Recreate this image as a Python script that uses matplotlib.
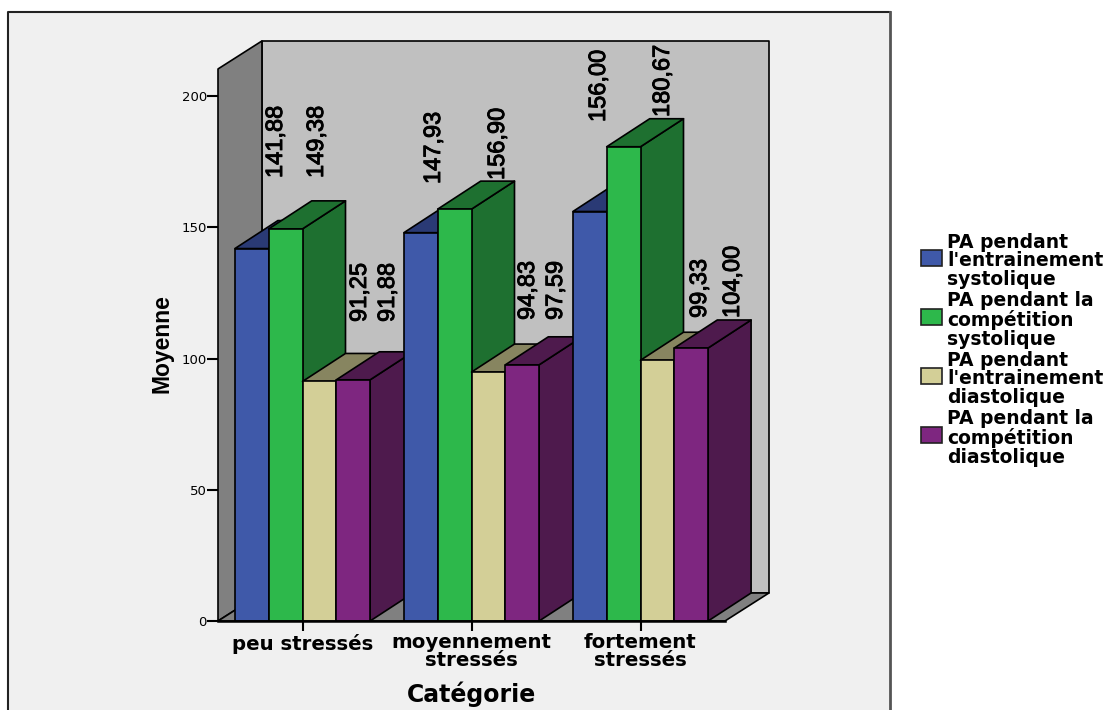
import matplotlib
matplotlib.use('Agg')
import matplotlib.pyplot as plt
import matplotlib.patheffects as pe
from matplotlib.patches import Polygon, Rectangle
from matplotlib.lines import Line2D

W, H = 1107, 710

categories = ['peu stressés', 'moyennement\nstressés', 'fortement\nstressés']
series_names = ["PA pendant\nl'entrainement\nsystolique",
                'PA pendant la\ncompétition\nsystolique',
                "PA pendant\nl'entrainement\ndiastolique",
                'PA pendant la\ncompétition\ndiastolique']
entr_sys = [141.88, 147.93, 156.00]
comp_sys = [149.38, 156.90, 180.67]
entr_dia = [91.25, 94.83, 99.33]
comp_dia = [91.88, 97.59, 104.00]
yticks = [0, 50, 100, 150, 200]

front_colors = ['#3F59A9', '#2DB84B', '#D3CF97', '#7E2680']
dark_colors = ['#2A3A75', '#1E7030', '#878560', '#4E1A4D']

# pixel spots of the value labels (centre x, bottom y), same order as the bars
label_spots = [[(276, 178), (317, 178), (360, 322), (388, 322)],
               [(434, 184), (498, 180), (528, 320), (556, 320)],
               [(599, 122), (663, 117), (700, 318), (733, 318)]]
legend_y = [261, 320, 379, 438]

DEPTH_X = 0.2544
WALL_DEPTH_X = 0.26
DEPTH_Y = 10.67
WALL_TOP = 210.3
BAR_W = 0.2


def px(x, y):
    return x / W, 1 - y / H


def fmt(v):
    return f'{v:.2f}'.replace('.', ',')


fig = plt.figure(figsize=(W / 100, H / 100), dpi=100, facecolor='white')

# grey panel behind everything
fig.add_artist(Rectangle(px(7.5, 760), 882.5 / W, 748.5 / H, transform=fig.transFigure,
                         facecolor='#F0F0F0', edgecolor='none', zorder=-5))
fig.add_artist(Line2D([7.5 / W, 7.5 / W, 890 / W], [0, 1 - 11.5 / H, 1 - 11.5 / H],
                      color='#222222', lw=1.5, zorder=-4))
fig.add_artist(Line2D([890 / W, 890 / W], [0, 1 - 11.5 / H], color='#555555', lw=2, zorder=-4))

ax = fig.add_axes([218 / W, (H - 621) / H, 507 / W, 525 / H], facecolor='none')
ax.set_xlim(0, 3)
ax.set_ylim(0, 200)


def poly(points, color, z):
    ax.add_patch(Polygon(points, closed=True, facecolor=color, edgecolor='black',
                         lw=1.2, clip_on=False, joinstyle='round', zorder=z))


# walls and floor
poly([(WALL_DEPTH_X, DEPTH_Y), (3 + WALL_DEPTH_X, DEPTH_Y), (3 + WALL_DEPTH_X, WALL_TOP + DEPTH_Y),
      (WALL_DEPTH_X, WALL_TOP + DEPTH_Y)], '#C0C0C0', 1)
poly([(0, 0), (WALL_DEPTH_X, DEPTH_Y), (WALL_DEPTH_X, WALL_TOP + DEPTH_Y), (0, WALL_TOP)], '#808080', 1)
poly([(0, 0), (3, 0), (3 + WALL_DEPTH_X, DEPTH_Y), (WALL_DEPTH_X, DEPTH_Y)], '#808080', 1)

# bars, left to right so each front hides the side of the one before
z = 2
all_series = [entr_sys, comp_sys, entr_dia, comp_dia]
for g in range(3):
    start = g + 0.1
    for s, values in enumerate(all_series):
        v = values[g]
        x0 = start + s * BAR_W
        x1 = x0 + BAR_W
        poly([(x1, 0), (x1 + DEPTH_X, DEPTH_Y), (x1 + DEPTH_X, v + DEPTH_Y), (x1, v)], dark_colors[s], z)
        poly([(x0, v), (x1, v), (x1 + DEPTH_X, v + DEPTH_Y), (x0 + DEPTH_X, v + DEPTH_Y)], dark_colors[s], z)
        poly([(x0, 0), (x1, 0), (x1, v), (x0, v)], front_colors[s], z)
        z += 1

for g in range(3):
    for s, values in enumerate(all_series):
        lx, ly = label_spots[g][s]
        t = fig.text(*px(lx, ly), fmt(values[g]), rotation=90, ha='center', va='bottom',
                     fontsize=17, family='Liberation Sans', color='black', zorder=50)
        t.set_path_effects([pe.withStroke(linewidth=0.7, foreground='black')])

for side in ['top', 'right', 'left']:
    ax.spines[side].set_visible(False)
ax.spines['bottom'].set_linewidth(1.8)
ax.spines['bottom'].set_zorder(40)

ax.set_yticks(yticks)
ax.tick_params(axis='y', length=8, width=1.5, labelsize=9.5, pad=0)
ax.set_xticks([0.5, 1.5, 2.5])
ax.set_xticklabels(categories, fontsize=14.2, fontweight='bold', linespacing=0.88)
ax.tick_params(axis='x', length=7, width=1.5, pad=2)

fig.text(*px(162, 344), 'Moyenne', rotation=90, ha='center', va='center', fontsize=16.5,
         family='Liberation Sans', fontweight='bold')
fig.text(*px(471.5, 694), 'Catégorie', ha='center', va='center', fontsize=17, fontweight='bold')

# legend
for name, color, y in zip(series_names, front_colors, legend_y):
    fig.add_artist(Rectangle(px(921, y + 5), 21 / W, 16 / H, transform=fig.transFigure,
                             facecolor=color, edgecolor='#222222', lw=1.2))
    fig.text(*px(947, y), name, ha='left', va='center', fontsize=13.5, fontweight='bold',
             linespacing=0.98)

fig.savefig('out.png', dpi=100)
